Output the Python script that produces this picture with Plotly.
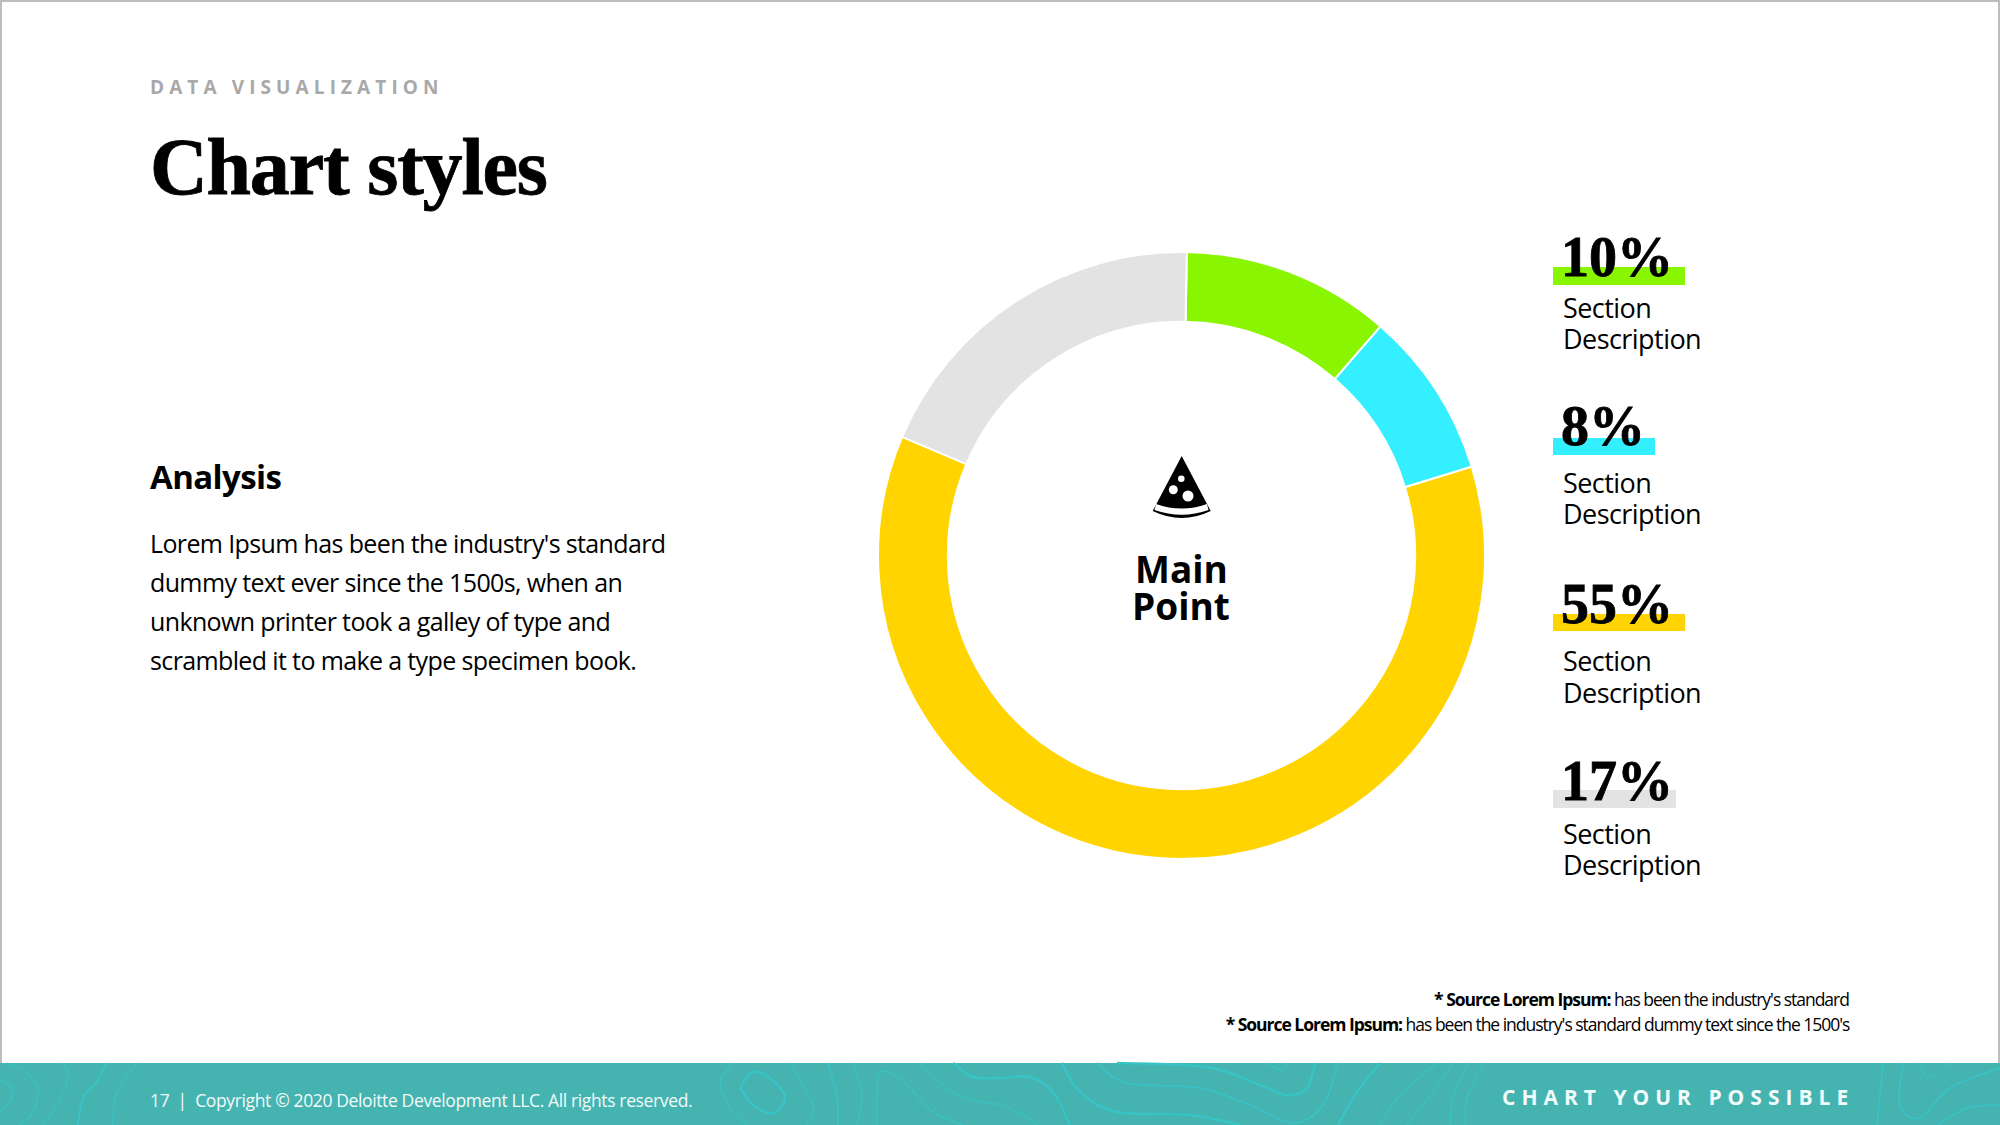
import plotly.graph_objects as go

W, H = 2000, 1125

# Ring data
categories = ["Green section", "Cyan section", "Yellow section", "Grey section"]
shares = [10, 8, 55, 17]
slice_colors = ["#8AF500", "#33EFFF", "#FFD400", "#E3E3E3"]

# Legend column
legend_descriptions = ["Section", "Description"]

# Copy
kicker = "DATA VISUALIZATION"
headline = "Chart styles"
analysis_title = "Analysis"
analysis_lines = [
    "Lorem Ipsum has been the industry's standard",
    "dummy text ever since the 1500s, when an",
    "unknown printer took a galley of type and",
    "scrambled it to make a type specimen book.",
]
center_lines = ["Main", "Point"]
source_lines = [
    "<b>* Source Lorem Ipsum:</b> has been the industry's standard",
    "<b>* Source Lorem Ipsum:</b> has been the industry's standard dummy text since the 1500's",
]
footer_left = "17  |  Copyright © 2020 Deloitte Development LLC. All rights reserved."
footer_right = "CHART YOUR POSSIBLE"

SANS = "Open Sans"
SERIF = "Liberation Serif"
TEAL = "#45B3B0"
CONTOUR = "#38C3C6"


def fx(x):
    return x / W


def fy(y):
    return 1 - y / H


def note(x, baseline, text, size, family=SANS, color="#000000", weight=400, anchor="left"):
    """Text placed by its baseline, given in pixels from the top-left corner."""
    return dict(
        x=fx(x), y=fy(baseline - 0.345 * size), xref="paper", yref="paper",
        text=text, showarrow=False, xanchor=anchor, yanchor="middle", align=anchor,
        font=dict(family=family, size=size, color=color, weight=weight),
        borderpad=0, captureevents=False,
    )


def rect(x0, y0, x1, y1, color, layer="below"):
    return dict(type="rect", xref="paper", yref="paper", x0=fx(x0), x1=fx(x1),
                y0=fy(y1), y1=fy(y0), fillcolor=color, line_width=0, layer=layer)


def disc(cx, cy, r, color):
    return dict(type="circle", xref="paper", yref="paper", x0=fx(cx - r), x1=fx(cx + r),
                y0=fy(cy + r), y1=fy(cy - r), fillcolor=color, line_width=0, layer="above")


def outline(d, color):
    return dict(type="path", xref="paper", yref="paper", path=d, fillcolor=color,
                line_width=0, layer="above")


def smooth(points):
    """Catmull-Rom curve through pixel points, as an SVG path in paper units."""
    pts = [points[0]] + list(points) + [points[-1]]
    d = f"M {fx(points[0][0]):.5f} {fy(points[0][1]):.5f}"
    for i in range(1, len(pts) - 2):
        p0, p1, p2, p3 = pts[i - 1], pts[i], pts[i + 1], pts[i + 2]
        c1 = (p1[0] + (p2[0] - p0[0]) / 6, p1[1] + (p2[1] - p0[1]) / 6)
        c2 = (p2[0] - (p3[0] - p1[0]) / 6, p2[1] - (p3[1] - p1[1]) / 6)
        d += (f" C {fx(c1[0]):.5f} {fy(c1[1]):.5f} {fx(c2[0]):.5f} {fy(c2[1]):.5f}"
              f" {fx(p2[0]):.5f} {fy(p2[1]):.5f}")
    return d


# Decorative topographic lines in the footer band: (width, points)
contours = [
    (1.2, [(7, 1063), (27, 1073), (38, 1088), (33, 1112), (20, 1125)]),
    (1.2, [(0, 1080), (12, 1088), (10, 1102), (0, 1112)]),
    (1.2, [(63, 1063), (68, 1078), (57, 1105), (43, 1125)]),
    (2.0, [(107, 1063), (97, 1082), (83, 1098), (78, 1125)]),
    (1.2, [(137, 1063), (117, 1092), (112, 1125)]),
    (2.4, [(740, 1087), (753, 1072), (770, 1078), (785, 1097), (773, 1113), (753, 1105), (740, 1087)]),
    (1.2, [(733, 1063), (720, 1082), (730, 1108), (747, 1125)]),
    (1.2, [(790, 1063), (813, 1105), (807, 1125)]),
    (1.6, [(828, 1063), (837, 1098), (838, 1125)]),
    (1.2, [(853, 1063), (862, 1095), (857, 1125)]),
    (1.2, [(877, 1125), (878, 1078), (888, 1072), (907, 1085), (933, 1112), (963, 1125)]),
    (1.2, [(920, 1063), (947, 1088), (973, 1100), (1000, 1105), (1020, 1113), (1037, 1125)]),
    (2.4, [(953, 1063), (973, 1077), (1000, 1078), (1030, 1077), (1053, 1092), (1070, 1125)]),
    (2.4, [(1062, 1063), (1080, 1092), (1117, 1112), (1190, 1115), (1240, 1125)]),
    (1.6, [(1097, 1063), (1127, 1083), (1200, 1088), (1250, 1105), (1293, 1123), (1323, 1105), (1338, 1063)]),
    (2.4, [(1117, 1063), (1207, 1067), (1260, 1085), (1287, 1095), (1307, 1088), (1315, 1063)]),
    (1.2, [(1267, 1063), (1280, 1070), (1288, 1063)]),
    (2.4, [(1380, 1063), (1357, 1092), (1338, 1125)]),
    (1.2, [(1437, 1063), (1400, 1095), (1380, 1125)]),
    (1.2, [(1453, 1063), (1433, 1092), (1407, 1125)]),
    (1.2, [(1468, 1063), (1453, 1098), (1450, 1125)]),
    (1.2, [(1483, 1063), (1467, 1098), (1465, 1125)]),
    (1.6, [(1883, 1063), (1877, 1125)]),
    (1.6, [(1903, 1063), (1900, 1105), (1920, 1118), (1950, 1088), (2000, 1068)]),
    (1.2, [(1918, 1063), (1930, 1078), (1950, 1063)]),
    (1.6, [(1937, 1125), (1967, 1108), (2000, 1105)]),
]

shapes = [
    rect(0, 0, W, 2, "#BDBDBD"),
    rect(0, 0, 2, 1063, "#BDBDBD"),
    rect(1998, 0, W, 1063, "#BDBDBD"),
    rect(0, 1063, W, H, TEAL),
]
for width, pts in contours:
    shapes.append(dict(type="path", xref="paper", yref="paper", path=smooth(pts),
                       line=dict(color=CONTOUR, width=width), layer="below"))

# Legend bars sit behind the large percentages
legend_blocks = [
    dict(bar=(1553, 267, 1685, 285), pct=276, line1=317, line2=348),
    dict(bar=(1553, 438, 1655, 455), pct=445, line1=492, line2=523),
    dict(bar=(1553, 614, 1685, 631), pct=623, line1=670, line2=702),
    dict(bar=(1553, 790, 1676, 808), pct=800, line1=843, line2=874),
]

annotations = [
    note(149, 94, kicker, 19, color="#A8A8A8", weight=700),
    note(149, 195, headline, 80, family=SERIF, weight=700),
    note(149, 488, analysis_title, 33, weight=700),
]
for base, line in zip([552, 591, 630, 669], analysis_lines):
    annotations.append(note(149, base, line, 25))
for base, line in zip([581, 618], center_lines):
    annotations.append(note(1181, base, line, 37, weight=700, anchor="center"))
for block, value, color in zip(legend_blocks, shares, slice_colors):
    x0, y0, x1, y1 = block["bar"]
    shapes.append(rect(x0, y0, x1, y1, color))
    annotations.append(note(1560, block["pct"], f"{value}%", 56, family=SERIF, weight=700))
    annotations.append(note(1562, block["line1"], legend_descriptions[0], 27))
    annotations.append(note(1562, block["line2"], legend_descriptions[1], 27))
for base, line in zip([1005, 1030], source_lines):
    annotations.append(note(1850, base, line, 17.5, anchor="right"))
annotations.append(note(149, 1106, footer_left, 17.5, color="#F2FBFB"))
annotations.append(note(1855, 1104, footer_right, 21, color="#F2FBFB", weight=700, anchor="right"))

# Pizza-slice icon in the middle of the ring
slice_outline = (
    f"M {fx(1181.7)} {fy(456)} L {fx(1210.7)} {fy(511)} "
    f"Q {fx(1181.7)} {fy(525)} {fx(1152.7)} {fy(511)} Z"
)
crust_band = (
    f"M {fx(1156)} {fy(504)} Q {fx(1181.7)} {fy(513)} {fx(1207)} {fy(504)} "
    f"L {fx(1208.5)} {fy(510)} Q {fx(1181.7)} {fy(519.4)} {fx(1154.5)} {fy(510)} Z"
)
shapes += [
    outline(slice_outline, "#000000"),
    outline(crust_band, "#FFFFFF"),
    disc(1181.3, 478.7, 3.3, "#FFFFFF"),
    disc(1173.3, 489.7, 4.5, "#FFFFFF"),
    disc(1188, 496, 5.5, "#FFFFFF"),
]

fig = go.Figure(
    go.Pie(
        labels=categories,
        values=shares,
        hole=0.77,
        sort=False,
        direction="clockwise",
        rotation=1,
        marker=dict(colors=slice_colors, line=dict(color="#FFFFFF", width=2)),
        textinfo="none",
        hoverinfo="skip",
        showlegend=False,
        domain=dict(x=[fx(878), fx(1485)], y=[fy(859), fy(252)]),
    )
)
fig.update_layout(
    width=W, height=H, margin=dict(l=0, r=0, t=0, b=0, pad=0),
    paper_bgcolor="#FFFFFF", plot_bgcolor="#FFFFFF",
    shapes=shapes, annotations=annotations, showlegend=False,
)

# Letter tracking and display weight are applied to the rendered SVG text
tracking = """
var gd = document.querySelector('.plotly-graph-div');
function applyTracking() {
  gd.querySelectorAll('.annotation-text').forEach(function (t) {
    var s = t.textContent;
    if (s === 'DATA VISUALIZATION') t.style.letterSpacing = '5.1px';
    else if (s === 'CHART YOUR POSSIBLE') t.style.letterSpacing = '6.0px';
    else if (s.indexOf('* Source') === 0) t.style.letterSpacing = '-1.02px';
    else if (s.indexOf('17  |') === 0) t.style.letterSpacing = '-0.37px';
    else if (s === 'Analysis') t.style.letterSpacing = '-0.6px';
    else if (s === 'Section' || s === 'Description') t.style.letterSpacing = '-0.55px';
    else if (/^(Lorem|dummy|unknown|scrambled)/.test(s)) t.style.letterSpacing = '-0.63px';
    else if (s === 'Chart styles') {
      t.style.letterSpacing = '-1.2px';
      t.style.stroke = '#000'; t.style.strokeWidth = '0.8px';
    } else if (/%$/.test(s)) {
      t.style.stroke = '#000'; t.style.strokeWidth = '0.8px';
    }
  });
}
applyTracking();
gd.on('plotly_afterplot', applyTracking);
"""
fig.write_html("out.html", post_script=tracking, config=dict(displayModeBar=False))
